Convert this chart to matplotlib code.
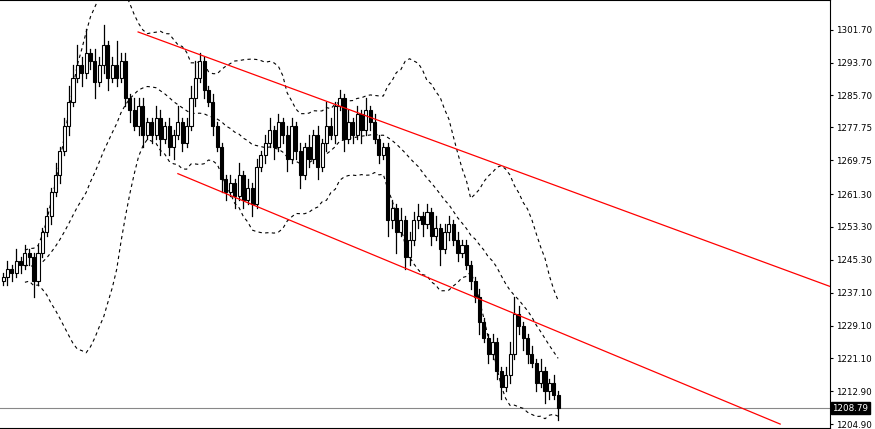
import numpy as np
import matplotlib
matplotlib.use("Agg")
import matplotlib.pyplot as plt

closes = [1241,1243,1242,1245,1244,1247,1246,1240,1247,
          1252,1256,1262,1266,1272,1278,1284,1290,1293,
          1291,1296,1294,1289,1293,1298,1290,1293,1290,1294,
          1285,1282,1278,1283,1276,1279,
          1276,1280,1275,1278,1273,1276,1279,1274,1278,
          1285,1290,1294,1287,
          1284,1278,1273,1265,
          1262,1264,1261,1266,1260,1263,1259,1268,
          1271,1274,1277,1273,1279,1276,1270,1278,
          1272,1266,1273,1270,1276,1268,1274,1278,1276,
          1283,1285,1275,1279,1276,1281,1277,1282,1279,1275,1271,
          1273,1255,
          1258,1252,1255,1246,1250,
          1255,1256,1254,1257,1251,1253,1248,1252,1254,1250,1247,1249,
          1244,1240,1236,
          1230,1226,1222,1225,
          1218,1214,1217,1222,
          1232,1229,1226,
          1222,1220,1215,1218,1213,
          1215,1212,1208.8]
first_open = 1240
wick_up = [1,2,1,3,1,2,1,1,2, 1,2,1,3,1,2,4,3,5, 2,6,1,3,2,5,1,2,6,2,
           2,1,3,2,2,1, 1,3,2,1,2,1,4,1,2, 3,4,2,1, 1,2,1,1,
           1,2,1,3,1,2,1,2, 1,2,3,1,2,1,2,2, 1,2,1,3,1,2,1,6,2,
           1,2,1,3,1,2,1,3,1,2,1, 1,1, 2,1,3,1,2, 2,3,1,2,1,3,1,2,2,1,2,1,
           1,1,1, 2,1,1,2, 1,1,2,3, 4,2,1, 1,2,1,3,1, 1,2,1]
wick_dn = [1,2,2,1,2,1,2,4,1, 1,1,2,1,2,1,2,1,1, 3,1,2,4,1,2,3,1,2,1,
           2,3,1,2,3,1, 2,1,4,1,2,3,1,2,1, 1,2,1,2, 1,2,1,3,
           2,1,3,1,2,1,3,1, 1,2,1,3,1,2,3,1, 2,3,1,2,1,3,1,2,1,
           2,1,3,1,2,1,3,1,2,1,2, 1,4, 2,5,1,3,2, 1,2,3,1,2,1,4,1,2,1,2,1,
           1,2,1, 3,1,2,1, 2,3,1,2, 1,2,3, 2,1,2,1,3, 2,1,3]
upper_channel = [(30.9, 1301.2), (189.2, 1238.7)]
lower_channel = [(40.0, 1266.4), (177.8, 1204.9)]
last_price = 1208.79
yticks = [1301.70,1293.70,1285.70,1277.75,1269.75,1261.30,1253.30,1245.30,1237.10,1229.10,1221.10,1212.90,1204.90]

c = np.array(closes, float)
o = np.concatenate([[first_open], c[:-1]])
hi = np.maximum(o, c) + np.array(wick_up)
lo = np.minimum(o, c) - np.array(wick_dn)
n = len(c)
idx = np.arange(n)

fig = plt.figure(figsize=(8.75, 4.29), dpi=100)
ax = fig.add_axes([0, 0.002, 830/875, 0.998])
ax.set_xlim(-0.7, 189.2)
ax.set_ylim(1203.9, 1309.05)

for i in idx:
    ax.plot([i, i], [lo[i], hi[i]], color='black', lw=0.9, zorder=2)
    b0, b1 = min(o[i], c[i]), max(o[i], c[i])
    fc = 'white' if c[i] >= o[i] else 'black'
    ax.add_patch(plt.Rectangle((i - 0.35, b0), 0.7, max(b1 - b0, 0.3),
                               facecolor=fc, edgecolor='black', lw=0.8, zorder=3))

period = 20
ma = np.full(n, np.nan); sd = np.full(n, np.nan)
for i in range(n):
    w = c[max(0, i - period + 1):i + 1]
    ma[i] = w.mean(); sd[i] = w.std()
for band in (ma + 2 * sd, ma, ma - 2 * sd):
    ax.plot(idx[5:], band[5:], color='black', lw=0.8, ls=(0, (3, 3)), zorder=1)

for line in (upper_channel, lower_channel):
    ax.plot([line[0][0], line[1][0]], [line[0][1], line[1][1]], color='red', lw=0.9, zorder=4)

ax.axhline(last_price, color='#888888', lw=0.8, zorder=0)

ax.yaxis.tick_right()
ax.set_yticks(yticks)
ax.set_yticklabels([f"{t:.2f}" for t in yticks], fontsize=6.3)
ax.tick_params(axis='y', length=2.5, pad=2)
ax.set_xticks([])
ax.spines['left'].set_visible(False)
ax.text(1.003, last_price, f"{last_price:.2f}", transform=ax.get_yaxis_transform(),
        fontsize=6.3, color='white', va='center', ha='left',
        bbox=dict(facecolor='black', edgecolor='black', pad=1.2), zorder=10)
fig.savefig("out.png", dpi=100)
